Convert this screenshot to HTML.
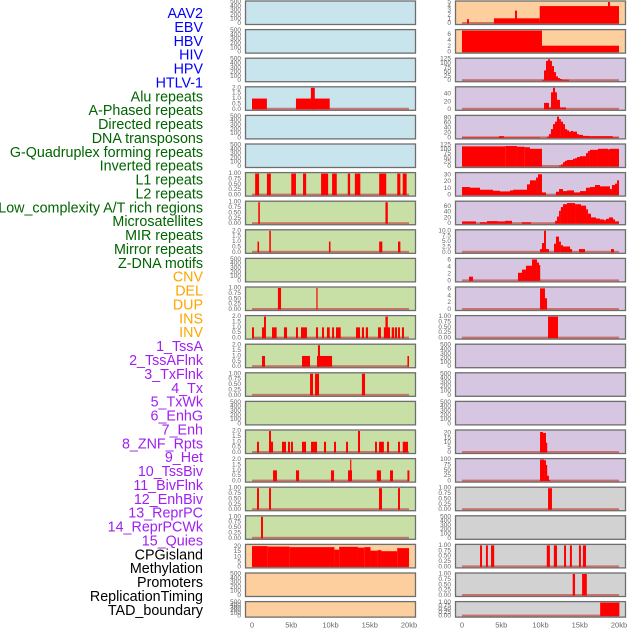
<!DOCTYPE html>
<html><head><meta charset="utf-8"><style>
html,body{margin:0;padding:0;background:#fff;}
svg{display:block;font-family:"Liberation Sans",sans-serif;}
</style></head><body>
<svg id="chart" width="630" height="630" viewBox="0 0 630 630" xmlns="http://www.w3.org/2000/svg"></svg>
<script>
// ---- data (kb segments: [start, end, value]) ----
const labels = ["AAV2","EBV","HBV","HIV","HPV","HTLV-1","Alu repeats","A-Phased repeats","Directed repeats","DNA transposons","G-Quadruplex forming repeats","Inverted repeats","L1 repeats","L2 repeats","Low_complexity A/T rich regions","Microsatellites","MIR repeats","Mirror repeats","Z-DNA motifs","CNV","DEL","DUP","INS","INV","1_TssA","2_TssAFlnk","3_TxFlnk","4_Tx","5_TxWk","6_EnhG","7_Enh","8_ZNF_Rpts","9_Het","10_TssBiv","11_BivFlnk","12_EnhBiv","13_ReprPC","14_ReprPCWk","15_Quies","CPGisland","Methylation","Promoters","ReplicationTiming","TAD_boundary"];
const labelColors = ["#0000ff","#0000ff","#0000ff","#0000ff","#0000ff","#0000ff","#006400","#006400","#006400","#006400","#006400","#006400","#006400","#006400","#006400","#006400","#006400","#006400","#006400","#ffa500","#ffa500","#ffa500","#ffa500","#ffa500","#a020f0","#a020f0","#a020f0","#a020f0","#a020f0","#a020f0","#a020f0","#a020f0","#a020f0","#a020f0","#a020f0","#a020f0","#a020f0","#a020f0","#a020f0","#000","#000","#000","#000","#000"];
const xTicks = [0,5,10,15,20];
const xTickLabels = ["0","5kb","10kb","15kb","20kb"];

const ticksEmpty = ["0","100","200","300","400","500"];
const ticks1 = ["0.00","0.25","0.50","0.75","1.00"];
const ticks2 = ["0.0","0.5","1.0","1.5","2.0"];

const hivSegs = [[0,1.9,1],[5.6,9.9,1],[7.5,8.0,2]];
const aluSegs = [[0.4,0.9,1],[1.9,2.4,1],[5.0,5.6,1],[6.5,6.9,1],[8.8,9.7,1],[10.2,10.8,1],[12.2,12.5,1],[13.1,13.8,1],[16.2,17.1,1],[18.5,18.9,1],[19.2,19.7,1]];
const aphasedSegs = [[0.8,1.0,1],[17.0,17.3,1]];
const directedSegs = [[0.7,0.9,1],[2.2,2.4,2],[9.8,10.0,1],[16.2,16.6,1],[18.6,18.9,1]];
const gquadSegs = [[3.3,3.7,1],[8.2,8.35,1]];
const invertedSegs = [[0,0.25,1],[1.27,1.66,1],[1.53,1.78,2],[2.55,3.14,1],[4.07,4.46,1],[5.6,5.86,1],[6.24,7.0,1],[8.15,8.41,1],[8.92,9.17,1],[9.55,9.9,1],[10.2,10.45,1],[10.7,11.3,1],[13.25,13.76,1],[14.0,14.27,1],[14.5,14.78,1],[16.05,16.43,1],[16.8,17.58,1],[17.0,17.3,2],[17.8,18.09,1],[18.2,18.47,1],[18.6,18.85,1],[19.1,19.36,1]];
const l1Segs = [[1.27,1.66,1],[6.37,7.39,1],[8.28,10.2,1],[8.4,8.66,2],[19.8,20,1]];
const l2Segs = [[7.39,7.77,1],[8.03,8.54,1],[14.0,14.4,1]];
const microSegs = [[0.64,0.89,1],[2.17,2.68,1],[2.17,2.42,2],[3.82,4.33,1],[4.58,4.84,1],[4.97,5.22,1],[6.37,6.88,1],[7.52,8.28,1],[9.17,9.43,1],[10.45,10.7,1],[11.98,12.23,1],[13.5,13.76,2],[15.67,15.92,1],[16.18,16.8,1],[17.2,17.45,1],[18.6,18.85,1],[19.2,19.87,1]];
const mirSegs = [[2.68,3.18,1],[5.6,6.0,1],[10.06,10.45,1],[12.23,12.74,1],[12.5,12.62,2],[15.9,16.43,1],[17.58,17.96,1],[19.8,20.05,1]];
const mirrorSegs = [[0.64,0.89,1],[2.17,2.42,1],[16.18,16.56,1],[18.6,18.85,1]];
const zdnaSegs = [[1.15,1.4,1]];
const cnvSegs = [[0,2,20.5],[2,4.8,20],[4.8,10.5,19.5],[10.5,11.1,17],[11.1,13.5,19.8],[13.5,14.3,19],[14.3,15.1,19.5],[15.1,16,16],[16,16.5,16.5],[16.5,18.5,15.5],[18.5,20,18.5]];
const insSegs = [[0.64,0.89,1],[4.07,9.9,1.2],[6.75,7.0,3],[9.9,20,4.05],[18.6,18.85,5]];
const invSegs = [[0,10.19,7.4],[10.19,20,2.2]];
const s1Segs = [[10.19,10.45,5],[10.45,10.7,60],[10.7,10.96,115],[10.96,11.21,125],[11.21,11.46,115],[11.46,11.72,85],[11.72,11.97,50],[11.97,12.23,25],[12.23,12.48,15],[12.48,12.74,10],[12.74,13.63,6]];
const s2Segs = [[10.45,11.08,17],[11.08,11.34,5],[11.34,11.59,45],[11.59,11.85,57],[11.85,12.1,45],[12.1,12.48,25],[12.48,13.25,5]];
const s3Segs = [[0,4.71,2],[4.71,5.35,7],[5.35,9.94,2],[10.8,11.08,5],[11.08,11.33,15],[11.33,11.59,35],[11.59,11.85,55],[11.85,12.1,65],[12.1,12.36,85],[12.36,12.6,75],[12.6,12.87,65],[12.87,13.12,55],[13.12,13.38,35],[13.38,13.63,30],[13.63,13.89,25],[13.89,14.14,28],[14.14,14.65,25],[14.65,14.9,15],[14.9,15.41,12],[15.41,16.18,8],[16.18,19.2,7],[19.2,20,2]];
const s4Segs = [[0,5.5,117],[5.5,7.0,119],[7.0,8.0,115],[8.0,8.66,112],[8.66,10.19,103],[12.36,12.6,5],[12.6,12.87,12],[12.87,13.12,25],[13.12,13.38,33],[13.38,14.14,38],[14.14,14.4,45],[14.4,14.65,48],[14.65,15.03,55],[15.03,15.8,60],[15.8,16.05,78],[16.05,16.3,90],[16.3,17.32,97],[17.32,18.6,103],[18.6,18.85,100],[18.85,20,103]];
const s5Segs = [[0,1.02,12],[1.02,2.29,11],[2.29,3.95,8],[3.95,4.84,6.5],[4.84,6.11,5.5],[6.11,6.5,7],[6.5,8.28,8],[8.28,8.66,16],[8.66,9.43,22],[9.43,9.68,26],[9.68,10.19,31],[10.19,10.7,4],[11.97,12.36,5],[12.36,12.87,9],[12.87,13.38,6],[13.38,14.27,7],[14.27,15.03,4],[15.03,15.8,6],[15.8,16.3,11],[16.3,16.94,12],[16.94,17.58,15],[17.58,18.85,13],[18.85,19.1,9],[19.1,19.49,15],[19.49,19.75,17],[19.75,20,22]];
const s6Segs = [[0,1.78,8],[2.29,3.18,5],[3.18,4.58,9],[4.58,5.48,8],[5.48,6.37,10],[7.64,8.79,5],[11.85,12.1,10],[12.1,12.36,25],[12.36,12.6,45],[12.6,12.87,58],[12.87,13.38,68],[13.38,14.4,72],[14.4,15.16,68],[15.16,15.8,63],[15.8,16.05,50],[16.05,16.43,35],[16.43,17.07,22],[17.07,17.58,18],[17.58,18.09,15],[18.09,18.34,12],[18.34,18.73,17],[18.73,19.24,22],[19.24,19.49,15],[19.49,20,8]];
const s7Segs = [[9.94,10.19,1.5],[10.19,10.45,4.3],[10.45,10.7,10],[10.7,11.08,1.5],[11.72,11.97,4],[11.97,12.36,7.3],[12.36,12.6,5],[12.6,12.87,3.3],[12.87,13.76,2.7],[13.76,14.02,1.5],[14.9,15.67,1.5],[18.98,19.36,1.5]];
const s8Segs = [[0.89,1.4,1.2],[7.13,7.64,2.3],[7.64,8.15,3.2],[8.15,8.92,4.3],[8.92,9.55,6.1],[9.55,9.81,5.2],[9.81,9.94,4.5]];
const s9Segs = [[9.94,10.57,6.2],[10.57,10.83,3.3]];
const s10Segs = [[10.96,12.23,1]];
const s14Segs = [[9.94,10.32,21],[10.32,10.7,20],[10.7,10.83,10]];
const s15Segs = [[9.94,10.45,100],[10.45,10.7,97],[10.7,10.83,75],[10.83,11.08,25],[11.08,11.21,5]];
const cpgSegs = [[10.96,11.46,1]];
const promSegs = [[2.3,2.55,1],[3.05,3.3,1],[3.7,4.1,1],[10.8,11.2,1],[11.7,12.1,1],[13.0,13.25,1],[13.75,14.0,1],[14.9,15.15,1],[15.4,15.8,1]];
const replSegs = [[14.1,14.4,1],[15.3,15.9,1]];
const tadSegs = [[17.6,20.05,1]];

const BLUE="#c8e4ec", GREEN="#c8e0a6", ORANGE="#fecf9e", PURPLE="#d6c6e2", GRAY="#d2d2d2";
const panels = [
 {n:"AAV2",c:0,r:0,bg:BLUE,s:null,m:500,t:ticksEmpty},
 {n:"EBV",c:0,r:1,bg:BLUE,s:null,m:500,t:ticksEmpty},
 {n:"HBV",c:0,r:2,bg:BLUE,s:null,m:500,t:ticksEmpty},
 {n:"HIV",c:0,r:3,bg:BLUE,s:hivSegs,m:2,t:ticks2},
 {n:"HPV",c:0,r:4,bg:BLUE,s:null,m:500,t:ticksEmpty},
 {n:"HTLV-1",c:0,r:5,bg:BLUE,s:null,m:500,t:ticksEmpty},
 {n:"Alu",c:0,r:6,bg:GREEN,s:aluSegs,m:1,t:ticks1},
 {n:"A-Phased",c:0,r:7,bg:GREEN,s:aphasedSegs,m:1,t:ticks1},
 {n:"Directed",c:0,r:8,bg:GREEN,s:directedSegs,m:2,t:ticks2},
 {n:"DNA-transposons",c:0,r:9,bg:GREEN,s:null,m:500,t:ticksEmpty},
 {n:"G-Quadruplex",c:0,r:10,bg:GREEN,s:gquadSegs,m:1,t:ticks1},
 {n:"Inverted",c:0,r:11,bg:GREEN,s:invertedSegs,m:2,t:ticks2},
 {n:"L1",c:0,r:12,bg:GREEN,s:l1Segs,m:2,t:ticks2},
 {n:"L2",c:0,r:13,bg:GREEN,s:l2Segs,m:1,t:ticks1},
 {n:"Low-complexity",c:0,r:14,bg:GREEN,s:null,m:500,t:ticksEmpty},
 {n:"Microsatellites",c:0,r:15,bg:GREEN,s:microSegs,m:2,t:ticks2},
 {n:"MIR",c:0,r:16,bg:GREEN,s:mirSegs,m:2,t:ticks2},
 {n:"Mirror",c:0,r:17,bg:GREEN,s:mirrorSegs,m:1,t:ticks1},
 {n:"Z-DNA",c:0,r:18,bg:GREEN,s:zdnaSegs,m:1,t:ticks1},
 {n:"CNV",c:0,r:19,bg:ORANGE,s:cnvSegs,m:21.2,t:["0","5","10","15","20"],tv:[0,5,10,15,20]},
 {n:"DEL",c:0,r:20,bg:ORANGE,s:null,m:500,t:ticksEmpty},
 {n:"DUP",c:0,r:21,bg:ORANGE,s:null,m:500,t:ticksEmpty},
 {n:"INS",c:1,r:0,bg:ORANGE,s:insSegs,m:5,t:["0","1","2","3","4","5"]},
 {n:"INV",c:1,r:1,bg:ORANGE,s:invSegs,m:7.4,t:["0","2","4","6"],tv:[0,2,4,6]},
 {n:"1-TssA",c:1,r:2,bg:PURPLE,s:s1Segs,m:125,t:["0","25","50","75","100","125"]},
 {n:"2-TssAFlnk",c:1,r:3,bg:PURPLE,s:s2Segs,m:57,t:["0","20","40"],tv:[0,20,40]},
 {n:"3-TxFlnk",c:1,r:4,bg:PURPLE,s:s3Segs,m:86,t:["0","20","40","60","80"],tv:[0,20,40,60,80]},
 {n:"4-Tx",c:1,r:5,bg:PURPLE,s:s4Segs,m:125,t:["0","25","50","75","100","125"]},
 {n:"5-TxWk",c:1,r:6,bg:PURPLE,s:s5Segs,m:32,t:["0","10","20","30"],tv:[0,10,20,30]},
 {n:"6-EnhG",c:1,r:7,bg:PURPLE,s:s6Segs,m:75,t:["0","20","40","60"],tv:[0,20,40,60]},
 {n:"7-Enh",c:1,r:8,bg:PURPLE,s:s7Segs,m:10,t:["0.0","2.5","5.0","7.5","10.0"]},
 {n:"8-ZNF-Rpts",c:1,r:9,bg:PURPLE,s:s8Segs,m:6.1,t:["0","2","4","6"],tv:[0,2,4,6]},
 {n:"9-Het",c:1,r:10,bg:PURPLE,s:s9Segs,m:6.3,t:["0","2","4","6"],tv:[0,2,4,6]},
 {n:"10-TssBiv",c:1,r:11,bg:PURPLE,s:s10Segs,m:1,t:ticks1},
 {n:"11-BivFlnk",c:1,r:12,bg:PURPLE,s:null,m:500,t:ticksEmpty},
 {n:"12-EnhBiv",c:1,r:13,bg:PURPLE,s:null,m:500,t:ticksEmpty},
 {n:"13-ReprPC",c:1,r:14,bg:PURPLE,s:null,m:500,t:ticksEmpty},
 {n:"14-ReprPCWk",c:1,r:15,bg:PURPLE,s:s14Segs,m:22,t:["0","5","10","15","20"],tv:[0,5,10,15,20]},
 {n:"15-Quies",c:1,r:16,bg:PURPLE,s:s15Segs,m:100,t:["0","25","50","75","100"]},
 {n:"CPGisland",c:1,r:17,bg:GRAY,s:cpgSegs,m:1,t:ticks1},
 {n:"Methylation",c:1,r:18,bg:GRAY,s:null,m:500,t:ticksEmpty},
 {n:"Promoters",c:1,r:19,bg:GRAY,s:promSegs,m:1,t:ticks1},
 {n:"ReplicationTiming",c:1,r:20,bg:GRAY,s:replSegs,m:1,t:ticks1},
 {n:"TAD-boundary",c:1,r:21,bg:GRAY,s:tadSegs,m:1,t:ticks1}
];

const NS="http://www.w3.org/2000/svg";
const svg=document.getElementById('chart');
function mk(tag,attrs,parent){const e=document.createElementNS(NS,tag);for(const k in attrs)e.setAttribute(k,attrs[k]);(parent||svg).appendChild(e);return e;}
const colX=[245,455], PW=171;
function xScale(kb,c){return colX[c]+7+kb*7.85;}
function rowTop(r){return 0.5+28.6*r;}
function rowH(r){return r===21?16.5:24.5;}

labels.forEach((l,i)=>{
  const t=mk('text',{x:203,y:14+i*13.88,'text-anchor':'end','dominant-baseline':'central','font-size':'14.3',fill:labelColors[i]});
  
  
  t.textContent=l;
});

panels.forEach(p=>{
  const g=mk('g',{});
  
  
  const top=rowTop(p.r),h=rowH(p.r),x0=colX[p.c];
  const yb=top+h-1.5, yt=top+1.5;
  const yScale=v=>yb-(v/p.m)*(yb-yt);
  const bg=mk('rect',{x:x0,y:top,width:PW,height:h,fill:p.bg},g);
  
  
  if(p.s){
    const base=mk('rect',{x:xScale(0,p.c),y:yb-1.5,width:xScale(20,p.c)-xScale(0,p.c),height:2,fill:'#c85a50',opacity:0.8},g);
    
    
    p.s.forEach(s=>{
      const x1=xScale(s[0],p.c),x2=xScale(s[1],p.c),y=yScale(s[2]);
      const b=mk('rect',{x:x1,y:y,width:Math.max(x2-x1,1.2),height:yb-y,fill:'#ff0000'},g);
      
      
    });
  }
  const br=mk('rect',{x:x0+0.5,y:top+0.5,width:PW-1,height:h-1,fill:'none',stroke:'#6e6e6e','stroke-width':1.3},g);
  
  
  p.t.forEach((lab,i)=>{
    const v=p.tv?p.tv[i]:(p.m===500?i*100:parseFloat(lab));
    const y=yScale(v);
    const tt=mk('text',{x:x0-4,y:y,'text-anchor':'end','dominant-baseline':'central','font-size':'6.5',fill:'#666'},g);
    
    
    tt.textContent=lab;
  });
});

[0,1].forEach(c=>{
  xTicks.forEach((v,i)=>{
    const t=mk('text',{x:xScale(v,c),y:625,'text-anchor':'middle','dominant-baseline':'central','font-size':'7.5',fill:'#666'});
    
    
    t.textContent=xTickLabels[i];
  });
});
</script>
</body></html>
